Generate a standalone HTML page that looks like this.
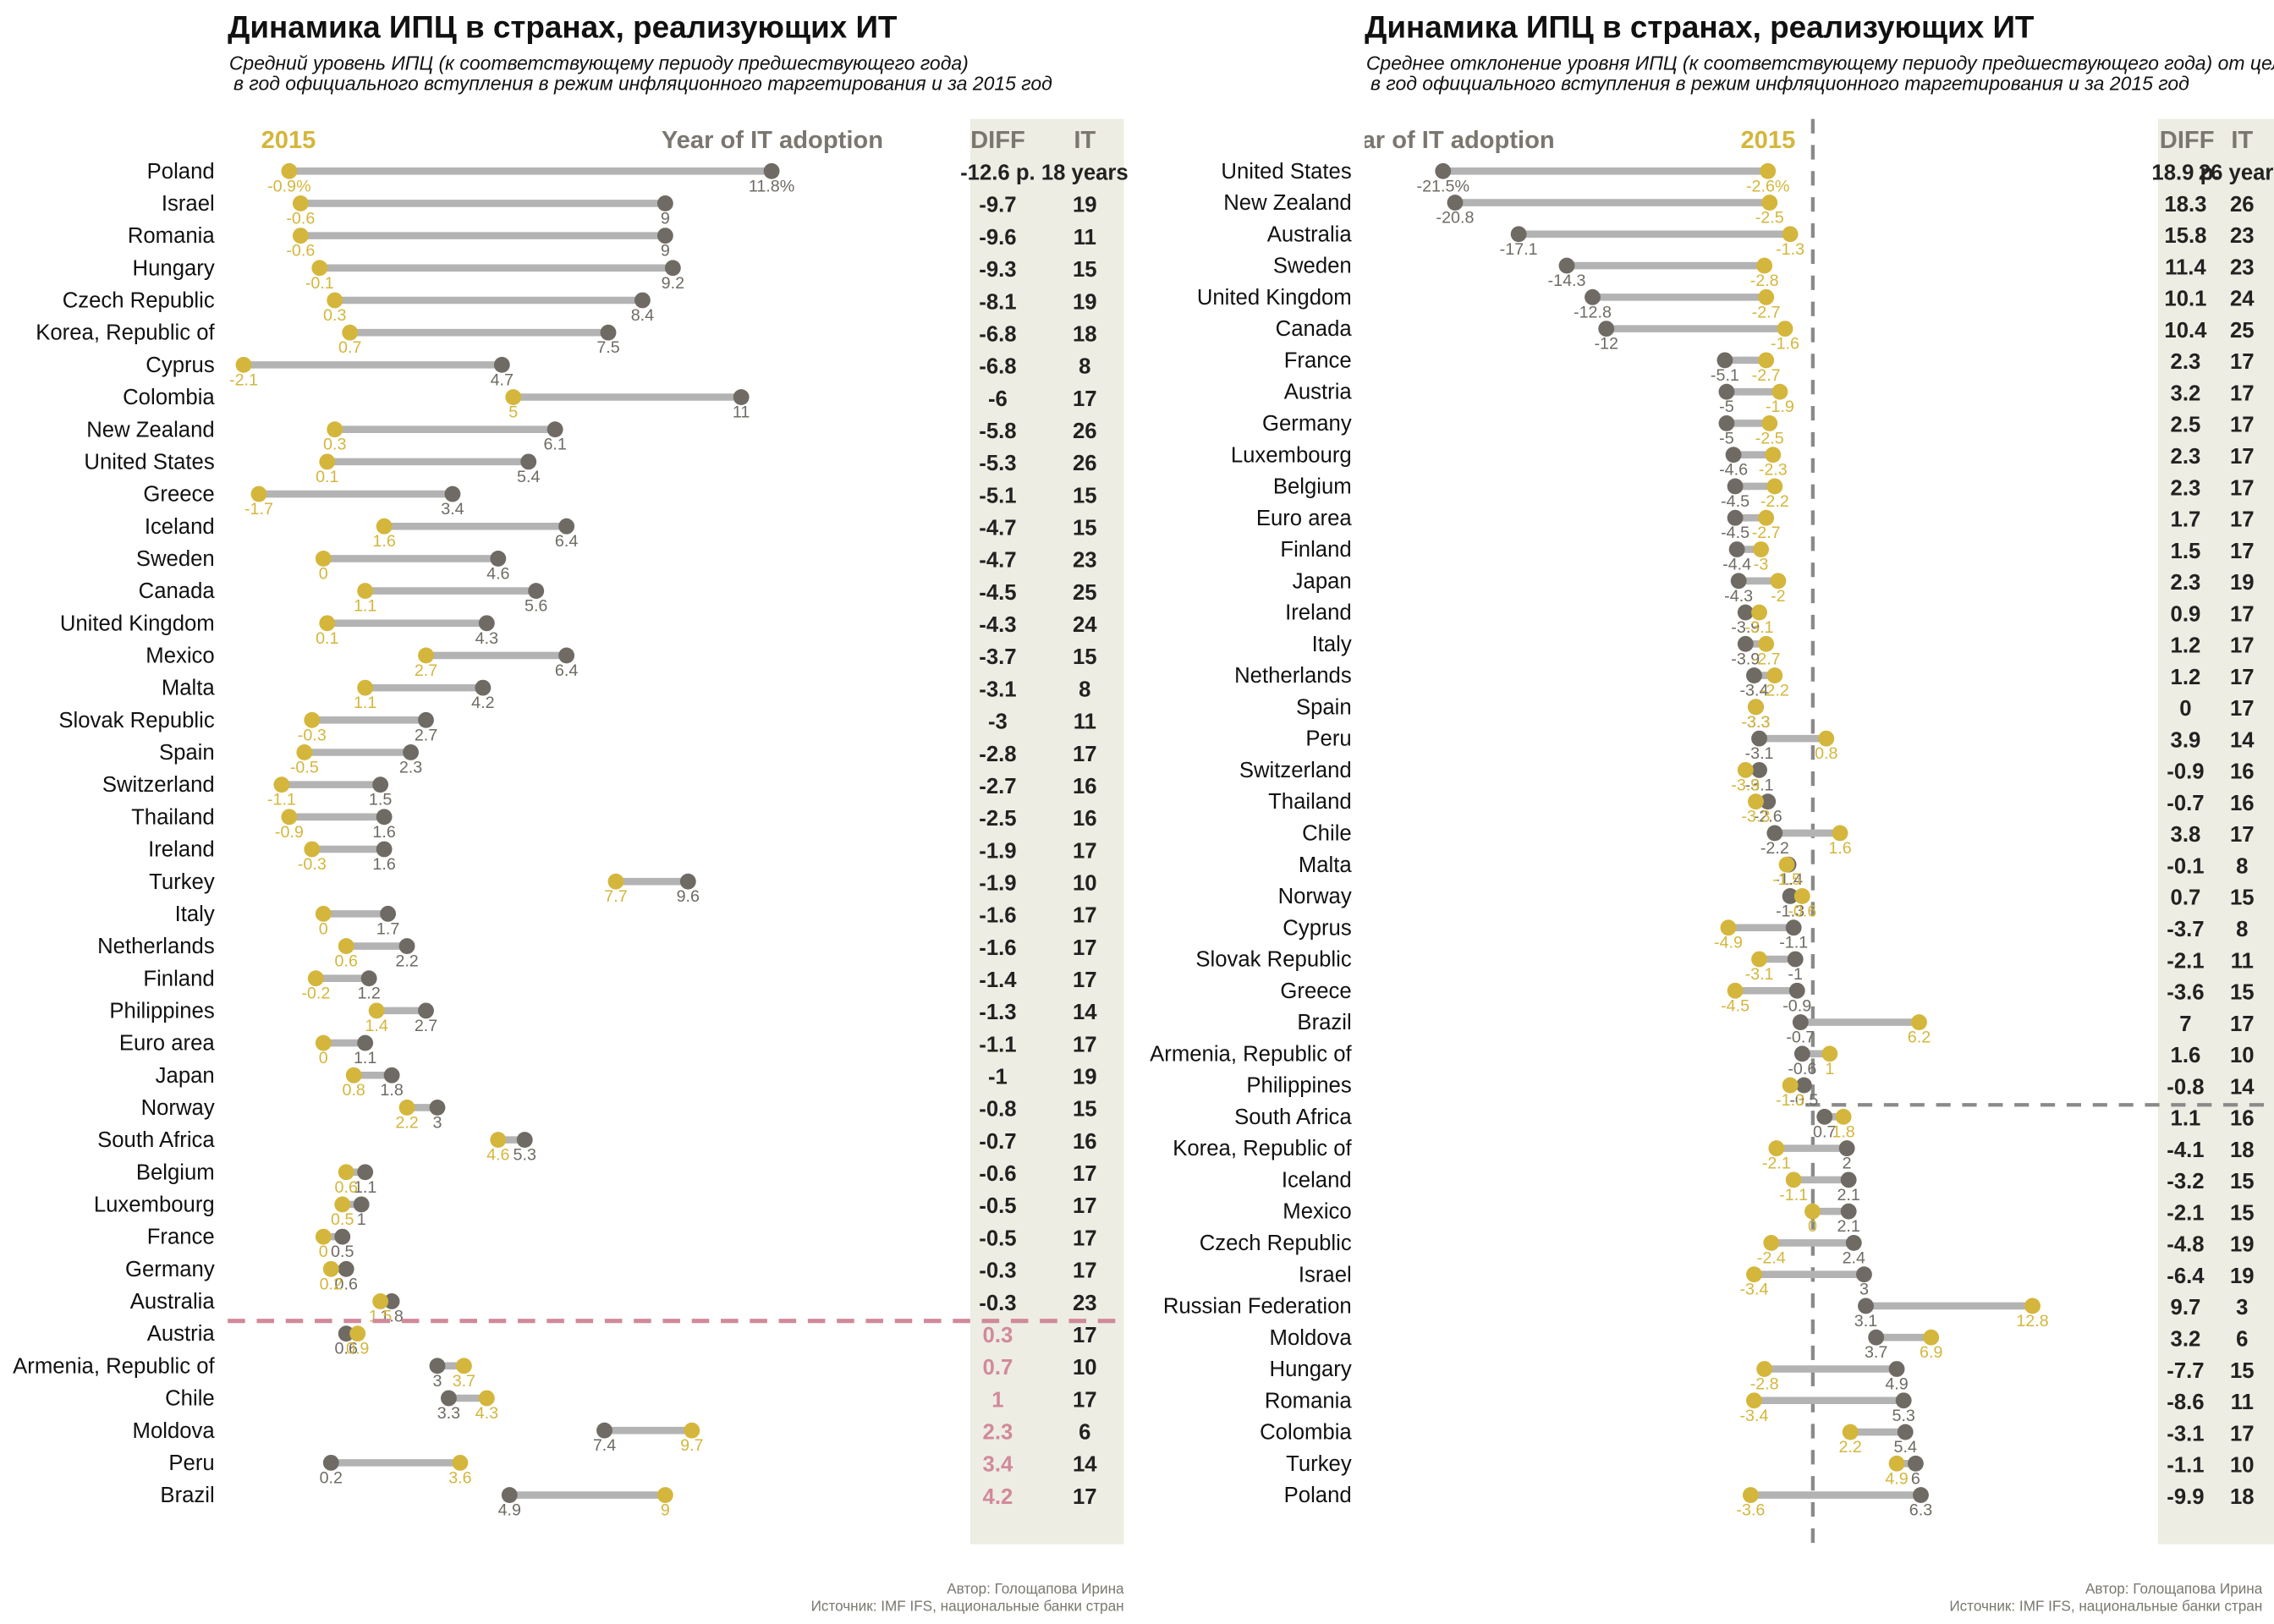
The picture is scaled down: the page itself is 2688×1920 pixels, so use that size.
<!DOCTYPE html>
<html><head><meta charset="utf-8"><style>
html,body{margin:0;padding:0;background:#fff;width:2688px;height:1920px;overflow:hidden}
svg{display:block}
text{font-family:"Liberation Sans","Noto Sans CJK SC",sans-serif}
</style></head><body>
<svg id="chart" width="2688" height="1920" viewBox="0 0 1568 1120" xmlns="http://www.w3.org/2000/svg">
<defs><clipPath id="rclip"><rect x="941" y="0" width="627" height="1120"/></clipPath></defs>
<g>
<rect x="669" y="82" width="106" height="983" fill="#eeede3"/>
<text x="157" y="26" font-size="21.5" font-weight="bold" fill="#111">Динамика ИПЦ в странах, реализующих ИТ</text>
<text x="158" y="48" font-size="13.4" font-style="italic" fill="#111">Средний уровень ИПЦ (к соответствующему периоду предшествующего года)</text>
<text x="161" y="62" font-size="13.4" font-style="italic" fill="#111">в год официального вступления в режим инфляционного таргетирования и за 2015 год</text>
<text x="180" y="102" font-size="17" font-weight="bold" fill="#d4b63c">2015</text>
<text x="609" y="102" font-size="17" font-weight="bold" fill="#7b7770" text-anchor="end">Year of IT adoption</text>
<text x="688" y="102" font-size="17" font-weight="bold" fill="#7b7770" text-anchor="middle">DIFF</text>
<text x="748" y="102" font-size="17" font-weight="bold" fill="#7b7770" text-anchor="middle">IT</text>
<g id="leftMarks"></g>
<line x1="157" x2="775" y1="911" y2="911" stroke="#d08a9a" stroke-width="3" stroke-dasharray="12,8"/>
<text x="775" y="1099" font-size="10" fill="#7b7770" text-anchor="end">Автор: Голощапова Ирина</text>
<text x="775" y="1111" font-size="10" fill="#7b7770" text-anchor="end">Источник: IMF IFS, национальные банки стран</text>
</g>
<g>
<rect x="1488" y="82" width="80" height="983" fill="#eeede3"/>
<text x="941" y="26" font-size="21.5" font-weight="bold" fill="#111">Динамика ИПЦ в странах, реализующих ИТ</text>
<text x="942" y="48" font-size="13.4" font-style="italic" fill="#111">Среднее отклонение уровня ИПЦ (к соответствующему периоду предшествующего года) от цели</text>
<text x="945" y="62" font-size="13.4" font-style="italic" fill="#111">в год официального вступления в режим инфляционного таргетирования и за 2015 год</text>
<g clip-path="url(#rclip)"><text x="1072" y="102" font-size="17" font-weight="bold" fill="#7b7770" text-anchor="end">Year of IT adoption</text></g>
<text x="1238" y="102" font-size="17" font-weight="bold" fill="#d4b63c" text-anchor="end">2015</text>
<text x="1508" y="102" font-size="17" font-weight="bold" fill="#7b7770" text-anchor="middle">DIFF</text>
<text x="1546" y="102" font-size="17" font-weight="bold" fill="#7b7770" text-anchor="middle">IT</text>
<line x1="1250" x2="1250" y1="82" y2="1065" stroke="#8a8a8a" stroke-width="2.5" stroke-dasharray="10,8"/>
<line x1="1245" x2="1568" y1="762" y2="762" stroke="#8a8a8a" stroke-width="2.5" stroke-dasharray="10,8"/>
<g id="rightMarks"></g>
<text x="1560" y="1099" font-size="10" fill="#7b7770" text-anchor="end">Автор: Голощапова Ирина</text>
<text x="1560" y="1111" font-size="10" fill="#7b7770" text-anchor="end">Источник: IMF IFS, национальные банки стран</text>
</g>
</svg>
<script>
const leftCountries=["Poland","Israel","Romania","Hungary","Czech Republic","Korea, Republic of","Cyprus","Colombia","New Zealand","United States","Greece","Iceland","Sweden","Canada","United Kingdom","Mexico","Malta","Slovak Republic","Spain","Switzerland","Thailand","Ireland","Turkey","Italy","Netherlands","Finland","Philippines","Euro area","Japan","Norway","South Africa","Belgium","Luxembourg","France","Germany","Australia","Austria","Armenia, Republic of","Chile","Moldova","Peru","Brazil"];
const left2015=[-0.9,-0.6,-0.6,-0.1,0.3,0.7,-2.1,5,0.3,0.1,-1.7,1.6,0,1.1,0.1,2.7,1.1,-0.3,-0.5,-1.1,-0.9,-0.3,7.7,0,0.6,-0.2,1.4,0,0.8,2.2,4.6,0.6,0.5,0,0.2,1.5,0.9,3.7,4.3,9.7,3.6,9];
const leftIT=[11.8,9,9,9.2,8.4,7.5,4.7,11,6.1,5.4,3.4,6.4,4.6,5.6,4.3,6.4,4.2,2.7,2.3,1.5,1.6,1.6,9.6,1.7,2.2,1.2,2.7,1.1,1.8,3,5.3,1.1,1,0.5,0.6,1.8,0.6,3,3.3,7.4,0.2,4.9];
const leftDiff=["-12.6 p.","-9.7","-9.6","-9.3","-8.1","-6.8","-6.8","-6","-5.8","-5.3","-5.1","-4.7","-4.7","-4.5","-4.3","-3.7","-3.1","-3","-2.8","-2.7","-2.5","-1.9","-1.9","-1.6","-1.6","-1.4","-1.3","-1.1","-1","-0.8","-0.7","-0.6","-0.5","-0.5","-0.3","-0.3","0.3","0.7","1","2.3","3.4","4.2"];
const leftYears=["18 years","19","11","15","19","18","8","17","26","26","15","15","23","25","24","15","8","11","17","16","16","17","10","17","17","17","14","17","19","15","16","17","17","17","17","23","17","10","17","6","14","17"];

const rightCountries=["United States","New Zealand","Australia","Sweden","United Kingdom","Canada","France","Austria","Germany","Luxembourg","Belgium","Euro area","Finland","Japan","Ireland","Italy","Netherlands","Spain","Peru","Switzerland","Thailand","Chile","Malta","Norway","Cyprus","Slovak Republic","Greece","Brazil","Armenia, Republic of","Philippines","South Africa","Korea, Republic of","Iceland","Mexico","Czech Republic","Israel","Russian Federation","Moldova","Hungary","Romania","Colombia","Turkey","Poland"];
const rightIT=[-21.5,-20.8,-17.1,-14.3,-12.8,-12,-5.1,-5,-5,-4.6,-4.5,-4.5,-4.4,-4.3,-3.9,-3.9,-3.4,-3.3,-3.1,-3.1,-2.6,-2.2,-1.4,-1.3,-1.1,-1,-0.9,-0.7,-0.6,-0.5,0.7,2,2.1,2.1,2.4,3,3.1,3.7,4.9,5.3,5.4,6,6.3];
const right2015=[-2.6,-2.5,-1.3,-2.8,-2.7,-1.6,-2.7,-1.9,-2.5,-2.3,-2.2,-2.7,-3,-2,-3.1,-2.7,-2.2,-3.3,0.8,-3.9,-3.3,1.6,-1.5,-0.6,-4.9,-3.1,-4.5,6.2,1,-1.3,1.8,-2.1,-1.1,0,-2.4,-3.4,12.8,6.9,-2.8,-3.4,2.2,4.9,-3.6];
const rightDiff=["18.9 p.","18.3","15.8","11.4","10.1","10.4","2.3","3.2","2.5","2.3","2.3","1.7","1.5","2.3","0.9","1.2","1.2","0","3.9","-0.9","-0.7","3.8","-0.1","0.7","-3.7","-2.1","-3.6","7","1.6","-0.8","1.1","-4.1","-3.2","-2.1","-4.8","-6.4","9.7","3.2","-7.7","-8.6","-3.1","-1.1","-9.9"];
const rightYears=["26 years","26","23","23","24","25","17","17","17","17","17","17","17","19","17","17","17","17","14","16","16","17","8","15","8","11","15","17","10","14","16","18","15","15","19","19","3","6","15","11","17","10","18"];

const NS="http://www.w3.org/2000/svg";
const GOLD="#d4b63c", GRAY="#6f6b64", SEG="#b3b3b3";
function mk(tag,attrs,parent,txt){const e=document.createElementNS(NS,tag);for(const k in attrs)e.setAttribute(k,attrs[k]);if(txt!==undefined)e.textContent=txt;parent.appendChild(e);return e;}
function fmt(v,first){return String(v)+(first?"%":"");}

function drawPanel(g,countries,valsGold,valsGray,diffs,years,xScale,yScale,labelX,diffX,itX,pinkPositive){
  countries.forEach((c,i)=>{
    const y=yScale(i);
    const t=mk("text",{x:labelX,y:y+5,"font-size":15,"text-anchor":"end",fill:"#111"},g,c);
    
    
    const xg=xScale(valsGold[i]), xa=xScale(valsGray[i]);
    const seg=mk("line",{x1:xg,x2:xa,y1:y,y2:y,stroke:SEG,"stroke-width":5},g);
    
    
    const da=mk("circle",{cx:xa,cy:y,r:5.5,fill:GRAY},g);
    
    
    const dg=mk("circle",{cx:xg,cy:y,r:5.5,fill:GOLD},g);
    
    
    const la=mk("text",{x:xa,y:y+14,"font-size":11.5,"text-anchor":"middle",fill:GRAY},g,fmt(valsGray[i],i===0));
    
    
    const lg=mk("text",{x:xg,y:y+14,"font-size":11.5,"text-anchor":"middle",fill:GOLD},g,fmt(valsGold[i],i===0));
    
    
    const pos=pinkPositive && parseFloat(diffs[i])>0;
    const dt=mk("text",{x:diffX,y:y+6,"font-size":15,"font-weight":"bold","text-anchor":"middle",fill:pos?"#d08a9a":"#222"},g,diffs[i]);
    
    
    const yt=mk("text",{x:itX,y:y+6,"font-size":15,"font-weight":"bold","text-anchor":"middle",fill:"#222"},g,years[i]);
    
    
  });
}
const lx=v=>223+v*26.19, ly=i=>118+i*22.27;
const rx=v=>1249.8+v*11.85, ry=i=>118+i*21.74;
drawPanel(document.getElementById("leftMarks"),leftCountries,left2015,leftIT,leftDiff,leftYears,lx,ly,148,688,748,true);
drawPanel(document.getElementById("rightMarks"),rightCountries,right2015,rightIT,rightDiff,rightYears,rx,ry,932,1507,1546,false);
</script>
</body></html>
